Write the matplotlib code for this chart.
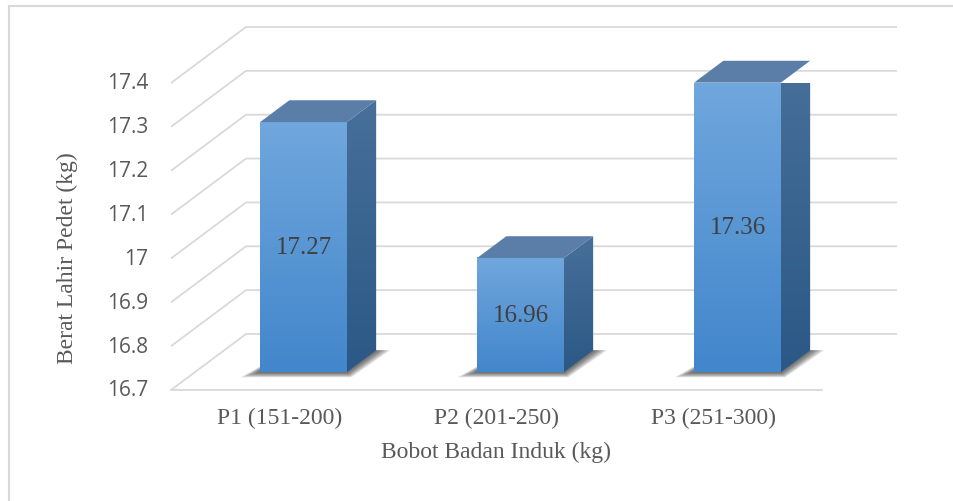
import numpy as np
import matplotlib
matplotlib.use("Agg")
from matplotlib import pyplot as plt
from matplotlib.patches import Polygon
from matplotlib.colors import LinearSegmentedColormap

# Datos
# ========================================
categorias = ["P1 (151-200)", "P2 (201-250)", "P3 (251-300)"]
valores = [17.27, 16.96, 17.36]
etiquetas = ["17.27", "16.96", "17.36"]
ticks = [16.7, 16.8, 16.9, 17.0, 17.1, 17.2, 17.3, 17.4]
tick_labels = ["16.7", "16.8", "16.9", "17", "17.1", "17.2", "17.3", "17.4"]
titulo_x = "Bobot Badan Induk (kg)"
titulo_y = "Berat Lahir Pedet (kg)"

# Geometría del falso 3D (desplazamiento de profundidad en unidades de datos)
DX = 0.3456
DY = 0.1277
f0, f1 = 0.32, 0.71     # profundidad de la cara frontal / trasera de las barras
ancho = 0.40
ymin, ymax = 16.7, 17.4

gris = "#595959"
grid_c = "#D9D9D9"

fig = plt.figure(figsize=(9.54, 5.02), dpi=100)
W, H = 954, 502
ax = fig.add_axes([171 / W, (H - 391) / H, 651 / W, 307 / H])
ax.set_xlim(0, 3)
ax.set_ylim(ymin, ymax)
ax.axis("off")

# Marco exterior
fig.add_artist(plt.Line2D([9 / W, 1], [1 - 6.5 / H, 1 - 6.5 / H], color=grid_c, lw=1.5))
fig.add_artist(plt.Line2D([9 / W, 9 / W], [0, 1 - 6.5 / H], color=grid_c, lw=1.5))

# Líneas de cuadrícula (pared lateral + pared trasera)
n = len(categorias)
for t in ticks:
    ax.plot([0, DX, n + DX], [t, t + DY, t + DY], color=grid_c, lw=1.3,
            clip_on=False, zorder=1, solid_capstyle="butt")
ax.plot([0, n], [ymin, ymin], color=grid_c, lw=1.3, clip_on=False, zorder=1)

# Etiquetas del eje Y
for t, lab in zip(ticks, tick_labels):
    ax.text(-0.106, t, lab, ha="right", va="center", fontsize=15,
            family="Open Sans", color=gris)

cm_front = LinearSegmentedColormap.from_list("front", ["#4286CB", "#70A7DD"])
cm_side = LinearSegmentedColormap.from_list("side", ["#2B5886", "#47709A"])
grad = np.linspace(0, 1, 256).reshape(-1, 1)

for i, v in enumerate(valores):
    xl = i + 0.5 - ancho / 2
    xr = i + 0.5 + ancho / 2

    # sombra difusa en el suelo
    capas = 8
    for k in range(capas):
        e = 1 - k / capas
        pts = [(xl + f0 * DX - 0.09 * e, ymin + f0 * DY - 0.012 * e),
               (xr + f0 * DX + 0.02 * e, ymin + f0 * DY - 0.012 * e),
               (xr + f1 * DX + 0.065 * e, ymin + f1 * DY),
               (xl + f1 * DX, ymin + f1 * DY)]
        ax.add_patch(Polygon(pts, closed=True, facecolor="#1a1a1a", edgecolor="none",
                             alpha=0.11, zorder=2, clip_on=False))

    # cara frontal con degradado
    ax.imshow(grad, cmap=cm_front, origin="lower", aspect="auto", zorder=3,
              extent=[xl + f0 * DX, xr + f0 * DX, ymin + f0 * DY, v + f0 * DY])

    # cara lateral
    side = Polygon([(xr + f0 * DX, ymin + f0 * DY), (xr + f1 * DX, ymin + f1 * DY),
                    (xr + f1 * DX, v + f1 * DY), (xr + f0 * DX, v + f0 * DY)],
                   closed=True, facecolor="none", edgecolor="none")
    ax.add_patch(side)
    im = ax.imshow(grad, cmap=cm_side, origin="lower", aspect="auto", zorder=3,
                   extent=[xr + f0 * DX, xr + f1 * DX, ymin + f0 * DY, v + f1 * DY])
    im.set_clip_path(side)

    # cara superior
    ax.add_patch(Polygon([(xl + f0 * DX, v + f0 * DY), (xr + f0 * DX, v + f0 * DY),
                          (xr + f1 * DX, v + f1 * DY), (xl + f1 * DX, v + f1 * DY)],
                         closed=True, facecolor="#5A7EA8", edgecolor="none", zorder=4,
                         clip_on=False))

    # etiqueta de valor
    ax.text(i + 0.5 + f0 * DX, (ymin + v) / 2 + f0 * DY, etiquetas[i], ha="center",
            va="center", fontsize=18, family="Liberation Serif", color="#404040", zorder=5)

    # etiqueta de categoría
    ax.text(i + 0.5, ymin - 0.062, categorias[i], ha="center", va="center",
            fontsize=17, family="Liberation Serif", color=gris)

ax.set_xlim(0, 3)
ax.set_ylim(ymin, ymax)

fig.text(496 / W, 1 - 452 / H, titulo_x, ha="center", va="center", fontsize=17,
         family="Liberation Serif", color=gris)
fig.text(67 / W, 1 - 258 / H, titulo_y, ha="center", va="center", rotation=90,
         fontsize=17, family="Liberation Serif", color=gris)

fig.savefig("out.png", dpi=100)
